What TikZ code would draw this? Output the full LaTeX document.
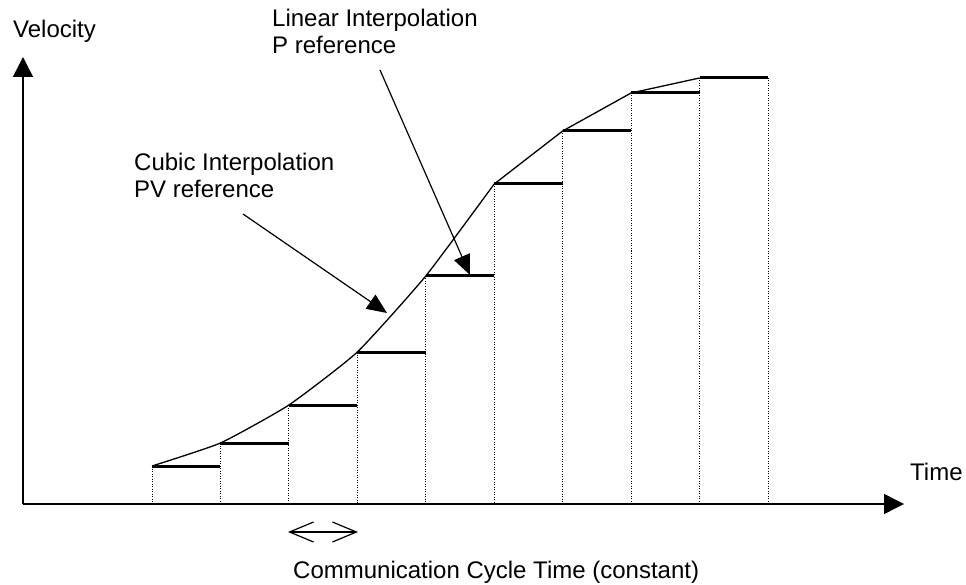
\documentclass[tikz,border=0pt]{standalone}
\usepackage{fontspec}
\setmainfont{Liberation Sans}
\usetikzlibrary{arrows.meta}
\newcommand{\lblfont}{\fontsize{24}{27}\selectfont}

\begin{document}
\begin{tikzpicture}[x=1pt,y=-1pt]
	\tikzset{every node/.style={inner sep=0pt,font=\lblfont}}
	\tikzset{axisline/.style={line width=1.4pt,-{Triangle[length=20pt,width=20pt]}}}
	\tikzset{pointer/.style={line width=1.2pt,-{Triangle[length=20pt,width=17pt]}}}
	\tikzset{stepline/.style={line width=3pt}}
	\tikzset{dotline/.style={line width=0.8pt,dash pattern=on 1pt off 1.5pt}}
	\useasboundingbox (0,0) rectangle (966,585);
	% axes
	\coordinate (o) at (23,504);
	\coordinate (ytop) at (23,57);
	\coordinate (xend) at (904,504);
	\draw[axisline] (o) -- (ytop);
	\draw[axisline] (o) -- (xend);
	\node[anchor=base west] (vlab) at (13,38) {Velocity};
	\node[anchor=base west] (tlab) at (910,480) {Time};
	% steps
	\foreach \h [count=\i from 0] in {466,443,405,352,276,184,131,93,78} {
		\coordinate (s\i) at ({152+68.44*\i},\h);
		\coordinate (e\i) at ({152+68.44*(\i+1)},\h);
		\draw[dotline] (s\i) -- (s\i |- o);
		\draw[stepline] (s\i) -- (e\i);
	}
	\draw[dotline] (e8) -- (e8 |- o);
	\draw[line width=1.3pt,line join=miter] plot[smooth,tension=0.3] coordinates
		{(s0) (s1) (s2) (s3) (s4) (s5)} -- (s6) -- (s7) -- (s8);
	% labels (base = last line)
	\node[anchor=base west,align=left] (cub) at (134,198) {Cubic Interpolation\\PV reference};
	\node[anchor=base west,align=left] (lin) at (272,54) {Linear Interpolation\\P reference};
	\coordinate (cubs) at (243,214);
	\coordinate (cubt) at (387,313);
	\coordinate (lins) at (380,70);
	\coordinate (lint) at (470,275);
	\draw[pointer] (cubs) -- (cubt);
	\draw[pointer] (lins) -- (lint);
	% cycle
	\coordinate (cyca) at (288,532);
	\coordinate (cycb) at (358,532);
	\draw[line width=1.2pt,{Straight Barb[length=24pt,width=20pt]}-{Straight Barb[length=24pt,width=20pt]}] (cyca) -- (cycb);
	\node[anchor=base west] (cyc) at (293,578) {Communication Cycle Time (constant)};
\end{tikzpicture}
\end{document}
